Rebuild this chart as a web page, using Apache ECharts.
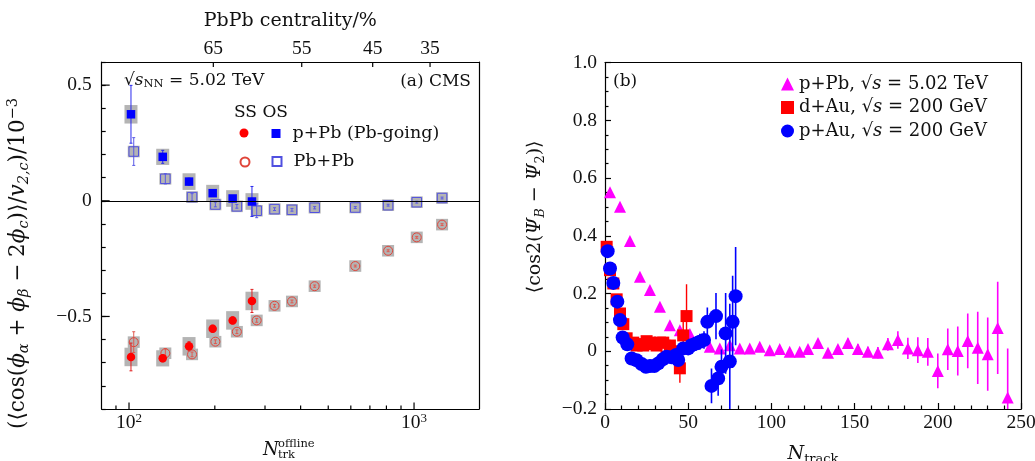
<!DOCTYPE html>
<html><head><meta charset="utf-8">
<script src="https://cdn.jsdelivr.net/npm/echarts@6/dist/echarts.min.js"></script>
<style>html,body{margin:0;padding:0;background:#fff}#c{width:1035px;height:461px}</style>
</head><body><div id="c"></div>
<script>
// ---------- Panel (a) data ----------
const nPPb      = [101.6, 131.3, 162.4, 196.6, 231.0, 270.0];
const ssPPb     = [-0.675, -0.681, -0.629, -0.553, -0.517, -0.433];
const ssPPbErr  = [0.060, 0.015, 0.020, 0.015, 0.015, 0.050];
const ssPPbSys  = [0.040, 0.035, 0.040, 0.040, 0.040, 0.040];
const osPPb     = [0.374, 0.190, 0.083, 0.033, 0.010, -0.003];
const osPPbErr  = [0.125, 0.028, 0.015, 0.012, 0.012, 0.065];
const osPPbSys  = [0.040, 0.035, 0.036, 0.036, 0.036, 0.036];

const nPbPb     = [103.9, 134.1, 166.4, 200.9, 239.0, 280.5, 324, 373, 448, 622, 811, 1022, 1254];
const ssPbPb    = [-0.611, -0.659, -0.664, -0.609, -0.566, -0.517, -0.454, -0.435, -0.369, -0.282, -0.216, -0.158, -0.103];
const ssPbPbErr = [0.045, 0.020, 0.010, 0.008, 0.008, 0.008, 0.006, 0.006, 0.005, 0.004, 0.004, 0.004, 0.004];
const osPbPb    = [0.213, 0.095, 0.016, -0.016, -0.024, -0.043, -0.036, -0.039, -0.030, -0.029, -0.019, -0.006, 0.012];
const osPbPbErr = [0.060, 0.022, 0.015, 0.010, 0.008, 0.030, 0.006, 0.006, 0.005, 0.004, 0.004, 0.004, 0.004];
const pbpbSys   = [0.025, 0.025, 0.025, 0.025, 0.025, 0.025, 0.025, 0.025, 0.025, 0.025, 0.025, 0.025, 0.025];

const xMinorTicks  = [90, 200, 300, 400, 500, 600, 700, 800, 900];
const xMajorTicks  = [100, 1000];
const centN        = [197.6, 403.6, 716, 1138];
const centLabels   = ['65', '55', '45', '35'];
const yMajorTicksA = [-0.5, 0, 0.5];

// ---------- Panel (b) data ----------
const nPPb5   = [3, 9, 15, 21, 27, 33, 39, 45, 51, 57, 63, 69, 75, 81, 87, 93, 99, 105, 111, 117, 122, 128, 134, 140, 146, 152, 158, 164, 170, 176, 182, 188, 194, 200, 206, 212, 218, 224, 230, 236, 242];
const vPPb5   = [0.551, 0.501, 0.382, 0.258, 0.212, 0.154, 0.090, 0.073, 0.060, 0.035, 0.016, 0.010, 0.021, 0.010, 0.010, 0.016, 0.004, 0.008, -0.002, -0.002, 0.008, 0.029, -0.005, 0.008, 0.029, 0.008, -0.002, -0.005, 0.024, 0.039, 0.010, 0.004, -0.002, -0.068, 0.007, 0.001, 0.036, 0.012, -0.010, 0.081, -0.160];
const ePPb5   = [0.005, 0.005, 0.005, 0.005, 0.005, 0.006, 0.006, 0.007, 0.007, 0.008, 0.008, 0.008, 0.009, 0.009, 0.010, 0.010, 0.010, 0.011, 0.011, 0.012, 0.012, 0.013, 0.013, 0.014, 0.015, 0.016, 0.018, 0.020, 0.022, 0.030, 0.037, 0.045, 0.048, 0.060, 0.072, 0.085, 0.095, 0.125, 0.127, 0.160, 0.170];

const nDAu    = [1, 3, 5, 7, 9, 11, 13, 15, 17, 19, 21, 23, 25, 27, 29, 31, 33, 35, 37, 39, 41, 43, 45, 47, 49];
const vDAu    = [0.362, 0.281, 0.235, 0.180, 0.131, 0.094, 0.045, 0.027, 0.030, 0.020, 0.025, 0.020, 0.035, 0.030, 0.025, 0.020, 0.030, 0.030, -0.020, 0.020, 0.000, -0.020, -0.059, 0.055, 0.122];
const eDAu    = [0.008, 0.008, 0.008, 0.008, 0.008, 0.008, 0.008, 0.008, 0.008, 0.009, 0.009, 0.010, 0.010, 0.011, 0.012, 0.013, 0.014, 0.015, 0.018, 0.020, 0.025, 0.030, 0.050, 0.050, 0.110];

const nPAu    = [1.6, 3, 5, 7.4, 9, 10.6, 13.4, 16, 19, 22, 24.6, 27, 29.6, 32, 34.7, 37, 40, 42.7, 44, 47, 50, 52, 54.7, 57, 59.5, 61.5, 64, 66.7, 68, 70, 72.5, 75, 76.7, 78.5];
const vPAu    = [0.347, 0.287, 0.237, 0.172, 0.108, 0.048, 0.024, -0.025, -0.031, -0.044, -0.054, -0.051, -0.051, -0.042, -0.028, -0.019, -0.021, -0.013, -0.030, 0.010, 0.010, 0.021, 0.027, 0.033, 0.039, 0.102, -0.120, 0.122, -0.094, -0.054, 0.062, -0.035, 0.102, 0.191];
const ePAu    = [0.005, 0.005, 0.005, 0.005, 0.005, 0.005, 0.005, 0.006, 0.006, 0.006, 0.007, 0.007, 0.008, 0.008, 0.009, 0.010, 0.012, 0.014, 0.016, 0.018, 0.020, 0.022, 0.025, 0.028, 0.030, 0.050, 0.060, 0.080, 0.060, 0.060, 0.140, 0.200, 0.160, 0.170];

// ---------- styling ----------
const NUMF = 'Liberation Serif';
const TXTF = 'DejaVu Serif';
const INK = '#111';
const TICK_FS = 19.5;
const LW = 1.2;

function fmtNum(v) { if (Math.abs(v) < 1e-9) return '0'; return v.toFixed(1).replace('-', '\u2212'); }

function boxRender(color, w) {
  return function (params, api) {
    const x = api.value(0), y = api.value(1), s = api.value(2);
    const c = api.coord([x, y]);
    const t = api.coord([x, y + s])[1];
    const b = api.coord([x, y - s])[1];
    return { type: 'rect', shape: { x: c[0] - w / 2, y: t, width: w, height: b - t }, style: { fill: color } };
  };
}
function errRender(color, lw, cap) {
  return function (params, api) {
    const x = api.value(0), y = api.value(1), e = api.value(2);
    const p1 = api.coord([x, y + e]), p2 = api.coord([x, y - e]);
    const ch = [{ type: 'line', shape: { x1: p1[0], y1: p1[1], x2: p2[0], y2: p2[1] }, style: { stroke: color, lineWidth: lw } }];
    if (cap) {
      ch.push({ type: 'line', shape: { x1: p1[0] - cap, y1: p1[1], x2: p1[0] + cap, y2: p1[1] }, style: { stroke: color, lineWidth: lw } });
      ch.push({ type: 'line', shape: { x1: p2[0] - cap, y1: p2[1], x2: p2[0] + cap, y2: p2[1] }, style: { stroke: color, lineWidth: lw } });
    }
    return { type: 'group', children: ch };
  };
}
// tick marks placed at data positions through the axis scales
function tickRender(lenFn, dirX, dirY) {
  return function (params, api) {
    const c = api.coord([api.value(0), api.value(1)]);
    const L = lenFn(api.value(0), api.value(1));
    return { type: 'line', shape: { x1: c[0], y1: c[1], x2: c[0] + dirX * L, y2: c[1] + dirY * L }, style: { stroke: '#000', lineWidth: LW } };
  };
}
const zip3 = (a, b, c) => a.map((v, i) => [v, b[i], c[i]]);
const zip2 = (a, b) => a.map((v, i) => [v, b[i]]);

const X_MIN = 80.2, X_MAX = 1690, Y_MIN_A = -0.9, Y_MAX_A = 0.6;
const blackLine = { show: true, onZero: false, lineStyle: { color: '#000', width: LW } };
const tickStyle = { color: '#000', width: LW };
const noTick = { show: false };
const noLabel = { show: false };
const noSplit = { show: false };

const richSub = {
  i: { fontFamily: TXTF, fontStyle: 'italic', fontSize: 21.5, lineHeight: 26, color: INK },
  r: { fontFamily: TXTF, fontSize: 21.5, lineHeight: 26, color: INK },
  sub: { fontFamily: TXTF, fontStyle: 'italic', fontSize: 14.5, lineHeight: 14, verticalAlign: 'bottom', color: INK },
  sup: { fontFamily: TXTF, fontSize: 14.5, lineHeight: 14, verticalAlign: 'top', color: INK }
};
const richSubB = {
  i: { fontFamily: TXTF, fontStyle: 'italic', fontSize: 19, lineHeight: 24, color: INK },
  r: { fontFamily: TXTF, fontSize: 19, lineHeight: 24, color: INK },
  sub: { fontFamily: TXTF, fontStyle: 'italic', fontSize: 13, lineHeight: 13, verticalAlign: 'bottom', color: INK },
  subr: { fontFamily: TXTF, fontSize: 13, lineHeight: 13, verticalAlign: 'bottom', color: INK }
};

const option = {
  animation: false,
  backgroundColor: '#fff',
  grid: [
    { left: 101.7, top: 62, width: 377.3, height: 347, show: false, outerBoundsMode: 'none', containLabel: false },
    { left: 605, top: 62.7, width: 416, height: 346.3, show: false, outerBoundsMode: 'none', containLabel: false }
  ],
  xAxis: [
    // 0: panel a bottom
    { gridIndex: 0, type: 'log', min: X_MIN, max: X_MAX, position: 'bottom', axisLine: blackLine, axisTick: noTick,
      axisLabel: { customValues: xMajorTicks, margin: 3, color: INK,
        formatter: v => '{b|10}{s|' + Math.round(Math.log10(v)) + '}',
        rich: { b: { fontFamily: NUMF, fontSize: TICK_FS, lineHeight: 22, color: INK }, s: { fontFamily: NUMF, fontSize: 13, lineHeight: 13, verticalAlign: 'top', color: INK } } },
      splitLine: noSplit },
    // 1: panel a top (centrality)
    { gridIndex: 0, type: 'log', min: X_MIN, max: X_MAX, position: 'top', axisLine: blackLine, axisTick: noTick,
      axisLabel: { customValues: centN, margin: 3, color: INK, fontFamily: NUMF, fontSize: TICK_FS,
        formatter: v => { let k = 0, d = Infinity; centN.forEach((c, i) => { const dd = Math.abs(c - v); if (dd < d) { d = dd; k = i; } }); return centLabels[k]; } },
      name: 'PbPb centrality/%', nameLocation: 'middle', nameGap: 31,
      nameTextStyle: { fontFamily: TXTF, fontSize: 19, color: INK },
      splitLine: noSplit },
    // 2: panel b bottom
    { gridIndex: 1, type: 'value', min: 0, max: 250, interval: 50, position: 'bottom', axisLine: blackLine,
      axisTick: { show: true, inside: true, length: 6, lineStyle: tickStyle },
      minorTick: { show: true, splitNumber: 5, length: 3.5, lineStyle: tickStyle },
      axisLabel: { margin: 4, color: INK, fontFamily: NUMF, fontSize: TICK_FS },
      name: '{i|N}{subr|track}', nameLocation: 'middle', nameGap: 33,
      nameTextStyle: { fontFamily: TXTF, fontSize: 19, color: INK, rich: richSubB },
      splitLine: noSplit },
    // 3: panel b top border
    { gridIndex: 1, type: 'value', min: 0, max: 250, position: 'top', axisLine: blackLine, axisTick: noTick, axisLabel: noLabel, splitLine: noSplit }
  ],
  yAxis: [
    // 0: panel a left
    { gridIndex: 0, type: 'value', min: Y_MIN_A, max: Y_MAX_A, interval: 0.1, position: 'left', axisLine: blackLine,
      axisTick: { show: true, inside: true, length: 4, lineStyle: tickStyle },
      axisLabel: { customValues: yMajorTicksA, margin: 10, color: INK, fontFamily: NUMF, fontSize: TICK_FS, formatter: fmtNum },
      name: '{r|(\u27e8cos(}{i|\u03d5}{sub|\u03b1}{r| + }{i|\u03d5}{sub|\u03b2}{r| \u2212 2}{i|\u03d5}{sub|c}{r|)\u27e9/}{i|v}{sub|2,c}{r|)/10}{sup|\u22123}',
      nameLocation: 'middle', nameGap: 70,
      nameTextStyle: { fontFamily: TXTF, fontSize: 21.5, color: INK, lineHeight: 26, padding: [0, 56, 0, 0], rich: richSub },
      splitLine: noSplit },
    // 1: panel a right border
    { gridIndex: 0, type: 'value', min: Y_MIN_A, max: Y_MAX_A, position: 'right', axisLine: blackLine, axisTick: noTick, axisLabel: noLabel, splitLine: noSplit },
    // 2: panel b left
    { gridIndex: 1, type: 'value', min: -0.2, max: 1.0, interval: 0.2, position: 'left', axisLine: blackLine,
      axisTick: { show: true, inside: true, length: 6, lineStyle: tickStyle },
      minorTick: { show: true, splitNumber: 4, length: 3.5, lineStyle: tickStyle },
      axisLabel: { margin: 8, color: INK, fontFamily: NUMF, fontSize: TICK_FS, formatter: fmtNum },
      name: '{r|\u27e8cos2(}{i|\u03a8}{sub|B}{r| \u2212 }{i|\u03a8}{subr|2}{r|)\u27e9}',
      nameLocation: 'middle', nameGap: 58,
      nameTextStyle: { fontFamily: TXTF, fontSize: 19, color: INK, lineHeight: 24, padding: [0, 0, 0, 38], rich: richSubB },
      splitLine: noSplit },
    // 3: panel b right border
    { gridIndex: 1, type: 'value', min: -0.2, max: 1.0, position: 'right', axisLine: blackLine, axisTick: noTick, axisLabel: noLabel, splitLine: noSplit }
  ],
  legend: [
    { data: [{ name: 'pPb5' }, { name: 'dAu' }, { name: 'pAu' }], orient: 'vertical', left: 781, top: 75, padding: 0,
      itemWidth: 13, itemHeight: 13, itemGap: 5.5, selectedMode: false,
      formatter: n => ({ pPb5: '{r|p+Pb, \u221a}{i|s}{r| = 5.02 TeV}', dAu: '{r|d+Au, \u221a}{i|s}{r| = 200 GeV}', pAu: '{r|p+Au, \u221a}{i|s}{r| = 200 GeV}' })[n],
      textStyle: { fontFamily: TXTF, fontSize: 18, color: INK, rich: {
        r: { fontFamily: TXTF, fontSize: 18, color: INK, lineHeight: 19 },
        i: { fontFamily: TXTF, fontSize: 18, fontStyle: 'italic', color: INK, lineHeight: 19 } } } },
    { data: ['SS p+Pb'], left: 239.5, top: 128.5, padding: 0, itemWidth: 9, itemHeight: 9, selectedMode: false, formatter: () => '',
      textStyle: { fontSize: 1 } },
    { data: ['OS p+Pb'], left: 271.5, top: 123.5, padding: 0, itemWidth: 9, itemHeight: 9, selectedMode: false, formatter: n => 'p+Pb (Pb-going)',
      textStyle: { fontFamily: TXTF, fontSize: 17.5, color: INK, lineHeight: 20, padding: [0, 0, 0, 7] } },
    { data: ['SS Pb+Pb'], left: 239.5, top: 156.5, padding: 0, itemWidth: 9, itemHeight: 9, selectedMode: false, formatter: () => '',
      textStyle: { fontSize: 1 } },
    { data: ['OS Pb+Pb'], left: 271.5, top: 151.5, padding: 0, itemWidth: 9, itemHeight: 9, selectedMode: false, formatter: n => 'Pb+Pb',
      textStyle: { fontFamily: TXTF, fontSize: 17.5, color: INK, lineHeight: 20, padding: [0, 0, 0, 7] } }
  ],
  graphic: [
    { type: 'text', left: 124, top: 72, z: 100, style: { text: '\u221a{i|s}{sub|NN}{r| = 5.02 TeV}', fontFamily: TXTF, fontSize: 17, fill: INK,
      rich: { i: { fontFamily: TXTF, fontSize: 17, fontStyle: 'italic', lineHeight: 20 }, r: { fontFamily: TXTF, fontSize: 17, lineHeight: 20 }, sub: { fontFamily: TXTF, fontSize: 11.5, lineHeight: 12, verticalAlign: 'bottom' } } } },
    { type: 'text', right: 564, top: 73, z: 100, style: { text: '(a) CMS', fontFamily: TXTF, fontSize: 17, fill: INK } },
    { type: 'text', left: 234, top: 104, z: 100, style: { text: 'SS OS', fontFamily: TXTF, fontSize: 17, fill: INK } },
    { type: 'text', left: 613, top: 73, z: 100, style: { text: '(b)', fontFamily: TXTF, fontSize: 17, fill: INK } },
    { type: 'text', left: 263, top: 441, z: 100, style: { text: 'N', fontFamily: TXTF, fontStyle: 'italic', fontSize: 18, fill: INK } },
    { type: 'text', left: 278, top: 438, z: 100, style: { text: 'offline', fontFamily: TXTF, fontSize: 11.5, fill: INK } },
    { type: 'text', left: 278, top: 449, z: 100, style: { text: 'trk', fontFamily: TXTF, fontSize: 11.5, fill: INK } }
  ],
  series: [
    // ---- panel (a): axis tick marks ----
    { type: 'custom', name: 'ticksBottomA', xAxisIndex: 0, yAxisIndex: 0, z: 10, silent: true,
      renderItem: tickRender(v => (xMajorTicks.indexOf(v) >= 0 ? 6.5 : 3.5), 0, -1),
      data: xMinorTicks.concat(xMajorTicks).map(v => [v, Y_MIN_A]) },
    { type: 'custom', name: 'ticksTopA', xAxisIndex: 0, yAxisIndex: 0, z: 10, silent: true,
      renderItem: tickRender(() => 5, 0, 1), data: centN.map(v => [v, Y_MAX_A]) },
    { type: 'custom', name: 'ticksLeftA', xAxisIndex: 0, yAxisIndex: 0, z: 10, silent: true,
      renderItem: tickRender(() => 8, 1, 0), data: yMajorTicksA.map(v => [X_MIN, v]) },
    // ---- panel (a): systematic boxes ----
    { type: 'custom', name: 'sys1', xAxisIndex: 0, yAxisIndex: 0, z: 1, renderItem: boxRender('#b4b4b4', 12), data: zip3(nPbPb, ssPbPb, pbpbSys),
      markLine: { silent: true, symbol: ['none', 'none'], label: { show: false }, lineStyle: { color: '#000', width: 1, type: 'solid' }, data: [{ yAxis: 0 }] } },
    { type: 'custom', name: 'sys2', xAxisIndex: 0, yAxisIndex: 0, z: 1, renderItem: boxRender('#b4b4b4', 12), data: zip3(nPbPb, osPbPb, pbpbSys) },
    { type: 'custom', name: 'sys3', xAxisIndex: 0, yAxisIndex: 0, z: 1, renderItem: boxRender('#b4b4b4', 13), data: zip3(nPPb, ssPPb, ssPPbSys) },
    { type: 'custom', name: 'sys4', xAxisIndex: 0, yAxisIndex: 0, z: 1, renderItem: boxRender('#b4b4b4', 13), data: zip3(nPPb, osPPb, osPPbSys) },
    // ---- panel (a): stat errors ----
    { type: 'custom', name: 'e1', xAxisIndex: 0, yAxisIndex: 0, z: 2, renderItem: errRender('#e05a50', 1, 1.5), data: zip3(nPbPb, ssPbPb, ssPbPbErr) },
    { type: 'custom', name: 'e2', xAxisIndex: 0, yAxisIndex: 0, z: 2, renderItem: errRender('#5a5ae6', 1, 1.5), data: zip3(nPbPb, osPbPb, osPbPbErr) },
    { type: 'custom', name: 'e3', xAxisIndex: 0, yAxisIndex: 0, z: 2, renderItem: errRender('#e02020', 1, 1.5), data: zip3(nPPb, ssPPb, ssPPbErr) },
    { type: 'custom', name: 'e4', xAxisIndex: 0, yAxisIndex: 0, z: 2, renderItem: errRender('#2a2aee', 1, 1.5), data: zip3(nPPb, osPPb, osPPbErr) },
    // ---- panel (a): markers ----
    { type: 'scatter', name: 'SS Pb+Pb', xAxisIndex: 0, yAxisIndex: 0, z: 3, symbol: 'circle', symbolSize: 9,
      itemStyle: { color: 'rgba(0,0,0,0)', borderColor: '#e0453a', borderWidth: 1, opacity: 1 }, data: zip2(nPbPb, ssPbPb) },
    { type: 'scatter', name: 'OS Pb+Pb', xAxisIndex: 0, yAxisIndex: 0, z: 3, symbol: 'rect', symbolSize: 9.5,
      itemStyle: { color: 'rgba(0,0,0,0)', borderColor: '#5050e0', borderWidth: 1, opacity: 1 }, data: zip2(nPbPb, osPbPb) },
    { type: 'scatter', name: 'SS p+Pb', xAxisIndex: 0, yAxisIndex: 0, z: 4, symbol: 'circle', symbolSize: 8.5,
      itemStyle: { color: '#ff0000', opacity: 1 }, data: zip2(nPPb, ssPPb) },
    { type: 'scatter', name: 'OS p+Pb', xAxisIndex: 0, yAxisIndex: 0, z: 4, symbol: 'rect', symbolSize: 8.5,
      itemStyle: { color: '#0000ff', opacity: 1 }, data: zip2(nPPb, osPPb) },
    // ---- panel (b) ----
    { type: 'custom', name: 'ePPb5', xAxisIndex: 2, yAxisIndex: 2, z: 2, clip: true, renderItem: errRender('#ff00ff', 1.6, 0), data: zip3(nPPb5, vPPb5, ePPb5) },
    { type: 'scatter', name: 'pPb5', xAxisIndex: 2, yAxisIndex: 2, z: 3, symbol: 'triangle', symbolSize: 12,
      itemStyle: { color: '#ff00ff', opacity: 1 }, data: zip2(nPPb5, vPPb5) },
    { type: 'custom', name: 'eDAu', xAxisIndex: 2, yAxisIndex: 2, z: 4, clip: true, renderItem: errRender('#ff0000', 1.4, 0), data: zip3(nDAu, vDAu, eDAu) },
    { type: 'scatter', name: 'dAu', xAxisIndex: 2, yAxisIndex: 2, z: 5, symbol: 'rect', symbolSize: 12,
      itemStyle: { color: '#ff0000', opacity: 1 }, data: zip2(nDAu, vDAu) },
    { type: 'custom', name: 'ePAu', xAxisIndex: 2, yAxisIndex: 2, z: 6, clip: true, renderItem: errRender('#0000ff', 1.6, 0), data: zip3(nPAu, vPAu, ePAu) },
    { type: 'scatter', name: 'pAu', xAxisIndex: 2, yAxisIndex: 2, z: 7, symbol: 'circle', symbolSize: 14,
      itemStyle: { color: '#0000ff', opacity: 1 }, data: zip2(nPAu, vPAu) }
  ]
};
const chart = echarts.init(document.getElementById('c'), null, { renderer: 'canvas' });
chart.setOption(option);
</script>
</body></html>
